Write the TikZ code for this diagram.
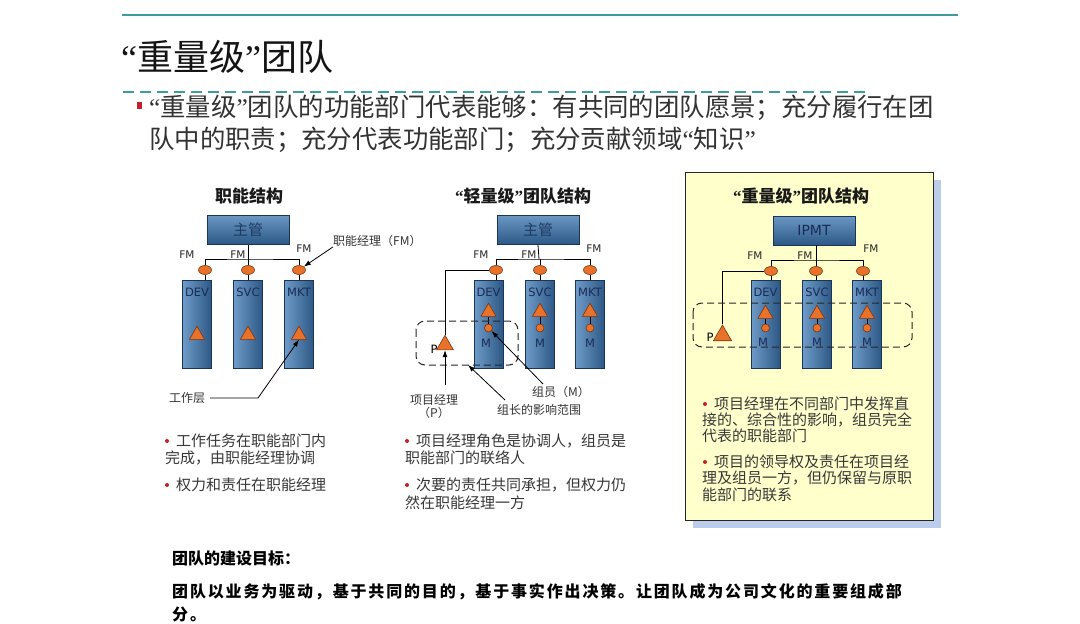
\documentclass[tikz,border=0pt]{standalone}
\usepackage{fontspec}
\setmainfont{DejaVu Sans}
\newfontfamily\cjk{Noto Sans CJK SC}
\newfontfamily\cjkls[LetterSpace=11.5]{Noto Sans CJK SC}
\newfontfamily\qf{Liberation Serif}
\usetikzlibrary{shapes.geometric,arrows.meta}
\definecolor{tealline}{HTML}{3F9C9C}
\definecolor{navy}{HTML}{1B3558}
\definecolor{navytxt}{HTML}{1A2C55}
\definecolor{boxlt}{HTML}{6A97C4}
\definecolor{boxdk}{HTML}{2C5886}
\definecolor{collt}{HTML}{6E9BC8}
\definecolor{coldk}{HTML}{2D5886}
\definecolor{boxtxt}{HTML}{1F3A63}
\definecolor{orng}{HTML}{E8722A}
\definecolor{ovdk}{HTML}{7A3410}
\definecolor{bulred}{HTML}{C8202A}
\definecolor{yel}{HTML}{FFFFCC}
\definecolor{shadowblue}{HTML}{BCCDEB}
\begin{document}
\begin{tikzpicture}[x=1pt,y=-1pt,
  box/.style={draw=navy, top color=boxlt, bottom color=boxdk, minimum width=82, minimum height=29, inner sep=0, font=\cjk\fontsize{15}{15}\selectfont, text=boxtxt},
  col/.style={draw=navy, left color=collt, right color=coldk, minimum width=29, minimum height=88, inner sep=0},
  ov/.style={ellipse, draw=ovdk, fill=orng, minimum width=13, minimum height=9, inner sep=0, line width=0.6},
  tri/.style={regular polygon, regular polygon sides=3, draw=ovdk, fill=orng, minimum size=17.5, inner sep=0, line width=0.6},
  mdot/.style={circle, draw=ovdk, fill=orng, minimum size=8, inner sep=0, line width=0.6},
  lbl/.style={font=\fontsize{11.5}{12}\selectfont, text=navytxt, inner sep=0},
  fm/.style={font=\fontsize{10.5}{11}\selectfont, text=black!85, inner sep=0},
  cl/.style={font=\cjk\fontsize{12}{13}\selectfont, text=black!80, inner sep=0},
  hd/.style={font=\cjk\bfseries\fontsize{17}{18}\selectfont, text=black!90, inner sep=0},
  bt/.style={font=\cjk\fontsize{15}{16}\selectfont, text=black!78, inner sep=0, anchor=west},
  bul/.style={circle, fill=bulred, minimum size=4, inner sep=0},
  ln/.style={draw=black, line width=0.8},
  arr/.style={draw=black, line width=0.8, -{Latex[length=7pt,width=5pt]}},
  dsh/.style={draw=black!85, line width=1, dash pattern=on 7pt off 4pt, rounded corners=9pt},
]
\useasboundingbox (0,0) rectangle (1080,624);
\fill[white] (0,0) rectangle (1080,624);

% ---------- header ----------
\draw[tealline, line width=1.2] (122,15) -- (958,15);
\node[anchor=west, inner sep=0, font=\cjk\fontsize{36}{40}\selectfont, text=black!92] (title) at (121,57) {{\qf “}重量级{\qf ”}团队};
\draw[tealline, line width=2.7, dash pattern=on 10.7pt off 6.3pt] (123,92) -- (865,92);
\node[fill=bulred, minimum width=5.5, minimum height=6.5, inner sep=0] (sq) at (139.5,105.5) {};
\node[anchor=west, align=left, inner sep=0, font=\cjk\fontsize{25.4}{32}\selectfont, text=black!80] (para) at (149,124)
  {{\qf “}重量级{\qf ”}团队的功能部门代表能够：有共同的团队愿景；充分履行在团\\队中的职责；充分代表功能部门；充分贡献领域{\qf “}知识{\qf ”}};

% ---------- right panel background ----------
\fill[shadowblue] (693,180) rectangle (941,528);
\draw[fill=yel, draw=black!85, line width=0.9] (685,172) rectangle (933,520);

% ---------- headings ----------
\node[hd] (hL) at (249,196) {职能结构};
\node[hd] (hM) at (523,196) {{\qf “}轻量级{\qf ”}团队结构};
\node[hd] (hR) at (801,196) {{\qf “}重量级{\qf ”}团队结构};

% ---------- left diagram ----------
\node[box] (zgL) at (248,230) {主管};
\coordinate (jL) at (248,259);
\node[col] (cL1) at (197,324) {};
\node[col] (cL2) at (248,324) {};
\node[col] (cL3) at (299,324) {};
\node[ov] (oL1) at (205,270) {};
\node[ov] (oL2) at (248,270) {};
\node[ov] (oL3) at (299,270) {};
\draw[ln] (zgL.south) -- (jL);
\draw[ln] (oL1.north) |- (jL) -| (oL3.north);
\draw[ln] (oL2.north) -- (oL2.north |- jL);
\draw[ln] (oL1.south) -- (oL1.south |- cL1.north);
\draw[ln] (oL2.south) -- (cL2.north);
\draw[ln] (oL3.south) -- (cL3.north);
\node[lbl] (dL1) at (197,292) {DEV};
\node[lbl] (dL2) at (248,292) {SVC};
\node[lbl] (dL3) at (299,292) {MKT};
\node[tri] (tL1) at (197,335) {};
\node[tri] (tL2) at (248,335) {};
\node[tri] (tL3) at (299,335) {};
\node[fm] (fL1) at (187,255) {FM};
\node[fm] (fL2) at (238,255) {FM};
\node[fm] (fL3) at (304,249) {FM};
\node[cl, anchor=west] (kL) at (333,241) {职能经理（FM）};
\draw[arr] (kL.south west) -- (oL3.north east);
\node[cl] (gzL) at (187,398) {工作层};
\coordinate (gzK) at (258,398);
\draw[arr] ([xshift=5pt]gzL.east) -- (gzK) -- (tL3.south);

% ---------- middle diagram ----------
\node[box] (zgM) at (538,230) {主管};
\coordinate (jM) at (539,259);
\node[col] (cM1) at (488.5,324) {};
\node[col] (cM2) at (540,324) {};
\node[col] (cM3) at (590,324) {};
\node[ov] (oM1) at (496,270) {};
\node[ov] (oM2) at (540,270) {};
\node[ov] (oM3) at (590,270) {};
\draw[ln] (zgM.south) -- (jM);
\draw[ln] (oM1.north) |- (jM) -| (oM3.north);
\draw[ln] (oM2.north) -- (oM2.north |- jM);
\draw[ln] (oM1.south) -- (oM1.south |- cM1.north);
\draw[ln] (oM2.south) -- (cM2.north);
\draw[ln] (oM3.south) -- (cM3.north);
\node[lbl] (dM1) at (488.5,292) {DEV};
\node[lbl] (dM2) at (540,292) {SVC};
\node[lbl] (dM3) at (590,292) {MKT};
\node[tri] (tM1) at (488.5,312) {};
\node[tri] (tM2) at (540,312) {};
\node[tri] (tM3) at (590,312) {};
\node[mdot] (mM1) at (488.5,328) {};
\node[mdot] (mM2) at (540,328) {};
\node[mdot] (mM3) at (590,328) {};
\draw[ln] (tM1.south) -- (mM1.north);
\draw[ln] (tM2.south) -- (mM2.north);
\draw[ln] (tM3.south) -- (mM3.north);
\node[lbl] (nM1) at (486,343) {M};
\node[lbl] (nM2) at (540,343) {M};
\node[lbl] (nM3) at (590,343) {M};
\node[tri, minimum size=19.5] (pM) at (445,345) {};
\node[lbl, text=black] (pLM) at (434,349) {P};
\draw[ln] (oM1.west) -| (pM.north);
\draw[dsh] (416,321) rectangle (518,365);
\node[fm] (fM1) at (481,255) {FM};
\node[fm] (fM2) at (529,255) {FM};
\node[fm] (fM3) at (594,249) {FM};
\node[cl] (xmM) at (434,400) {项目经理};
\node[cl] (xpM) at (434,413) {（P）};
\coordinate (aP) at (445,385);
\draw[arr] (aP) -- (pM.south);
\node[cl] (zzM) at (539,410) {组长的影响范围};
\coordinate (aZ) at (505,400);
\coordinate (zZ) at (468,365);
\draw[arr] (aZ) -- (zZ);
\node[cl] (zyM) at (561,392) {组员（M）};
\coordinate (aY) at (543,384);
\draw[arr] (aY) -- (mM1.south east);

% ---------- right diagram ----------
\node[box, font=\fontsize{14}{14}\selectfont, text=navytxt] (ipR) at (814,230.5) {IPMT};
\coordinate (jR) at (816,260);
\node[col] (cR1) at (765.5,324) {};
\node[col] (cR2) at (817,324) {};
\node[col] (cR3) at (867,324) {};
\node[ov] (oR1) at (771,271) {};
\node[ov] (oR2) at (816,271) {};
\node[ov] (oR3) at (863,271) {};
\draw[ln] (ipR.south -| jR) -- (jR);
\draw[ln] (oR1.north) |- (jR) -| (oR3.north);
\draw[ln] (oR2.north) -- (oR2.north |- jR);
\draw[ln] (oR1.south) -- (oR1.south |- cR1.north);
\draw[ln] (oR2.south) -- (oR2.south |- cR2.north);
\draw[ln] (oR3.south) -- (oR3.south |- cR3.north);
\node[lbl] (dR1) at (765.5,292) {DEV};
\node[lbl] (dR2) at (817,292) {SVC};
\node[lbl] (dR3) at (867,292) {MKT};
\node[tri] (tR1) at (765.5,314) {};
\node[tri] (tR2) at (817,314) {};
\node[tri] (tR3) at (867,314) {};
\node[mdot] (mR1) at (765.5,328) {};
\node[mdot] (mR2) at (817,328) {};
\node[mdot] (mR3) at (867,328) {};
\draw[ln] (tR1.south) -- (mR1.north);
\draw[ln] (tR2.south) -- (mR2.north);
\draw[ln] (tR3.south) -- (mR3.north);
\node[lbl] (nR1) at (763,342) {M};
\node[lbl] (nR2) at (817,342) {M};
\node[lbl] (nR3) at (867,342) {M};
\node[tri, minimum size=21] (pR) at (722.5,335.5) {};
\node[lbl, text=black] (pLR) at (710,337) {P};
\draw[ln] (oR1.west) -| (pR.north);
\draw[dsh] (693,303) rectangle (912,347);
\node[fm] (fR1) at (755,256) {FM};
\node[fm] (fR2) at (805,256) {FM};
\node[fm] (fR3) at (871,249) {FM};

% ---------- bullet texts ----------
\node[bul] (bL1) at (167,441) {};
\node[bt] (tL1a) at (176,441) {工作任务在职能部门内};
\node[bt] (tL1b) at (165,458) {完成，由职能经理协调};
\node[bul] (bL2) at (167,485) {};
\node[bt] (tL2a) at (176,485) {权力和责任在职能经理};

\node[bul] (bM1) at (407,441) {};
\node[bt] (tM1a) at (416,441) {项目经理角色是协调人，组员是};
\node[bt] (tM1b) at (405,458) {职能部门的联络人};
\node[bul] (bM2) at (407,485) {};
\node[bt] (tM2a) at (416,485) {次要的责任共同承担，但权力仍};
\node[bt] (tM2b) at (405,503) {然在职能经理一方};

\node[bul] (bR1) at (705,404) {};
\node[bt] (tR1a) at (714,404) {项目经理在不同部门中发挥直};
\node[bt] (tR1b) at (702,420) {接的、综合性的影响，组员完全};
\node[bt] (tR1c) at (702,436) {代表的职能部门};
\node[bul] (bR2) at (705,462) {};
\node[bt] (tR2a) at (714,462) {项目的领导权及责任在项目经};
\node[bt] (tR2b) at (702,478) {理及组员一方，但仍保留与原职};
\node[bt] (tR2c) at (702,495) {能部门的联系};

% ---------- bottom ----------
\node[anchor=west, inner sep=0, font=\cjk\bfseries\fontsize{16}{18}\selectfont] (goal) at (172,558) {团队的建设目标：};
\node[anchor=west, inner sep=0, font=\cjkls\bfseries\fontsize{16}{18}\selectfont] (goal2) at (172,592) {团队以业务为驱动，基于共同的目的，基于事实作出决策。让团队成为公司文化的重要组成部};
\node[anchor=west, inner sep=0, font=\cjkls\bfseries\fontsize{16}{18}\selectfont] (goal3) at (172,614) {分。};
\end{tikzpicture}
\end{document}
